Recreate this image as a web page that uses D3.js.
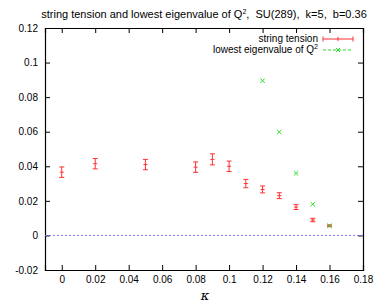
<!DOCTYPE html>
<html>
<head>
<meta charset="utf-8">
<script src="https://cdn.jsdelivr.net/npm/d3@7"></script>
<style>
  body { margin: 0; background: #fff; }
  text { font-family: "Liberation Sans", Arial, sans-serif; white-space: pre; }
</style>
</head>
<body>
<div class="container"></div>
<script>
// data
const kappa = [0, 0.02, 0.05, 0.08, 0.09, 0.10, 0.11, 0.12, 0.13, 0.14, 0.15, 0.16];
const tension = [0.0366, 0.0415, 0.041, 0.0395, 0.044, 0.040, 0.030, 0.0266, 0.023, 0.0164, 0.0089, 0.0056];
const tensionErr = [0.003, 0.003, 0.003, 0.003, 0.0032, 0.003, 0.0024, 0.002, 0.0017, 0.0014, 0.001, 0.0005];
const eigKappa = [0.12, 0.13, 0.14, 0.15, 0.16];
const eigValue = [0.0895, 0.0598, 0.0359, 0.018, 0.0056];
const xTicks = [0, 0.02, 0.04, 0.06, 0.08, 0.1, 0.12, 0.14, 0.16, 0.18];
const yTicks = [-0.02, 0, 0.02, 0.04, 0.06, 0.08, 0.1, 0.12];

const W = 382, H = 302;
const margin = {top: 28, right: 19, bottom: 32, left: 45};
const width = W - margin.left - margin.right,
    height = H - margin.top - margin.bottom;

const svg = d3.select("div.container").append("svg")
    .attr("width", W).attr("height", H);

const x = d3.scaleLinear().domain([-0.01, 0.18]).range([0, width]);
const y = d3.scaleLinear().domain([-0.02, 0.12]).range([height, 0]);

const g = svg.append("g").attr("transform", `translate(${margin.left},${margin.top})`);

// title
svg.append("text")
    .attr("x", 204).attr("y", 18)
    .attr("text-anchor", "middle")
    .style("font-size", "11px")
    .html('string tension and lowest eigenvalue of Q<tspan dy="-4" style="font-size:7px">2</tspan><tspan dy="4">,  SU(289),  k=5,  b=0.36</tspan>');

// axes: gnuplot style inward ticks, mirrored
const fmt = d => d === 0 ? "0" : String(+d.toFixed(2));
g.append("g").attr("transform", `translate(0,${height})`)
    .call(d3.axisBottom(x).tickValues(xTicks).tickSize(-5).tickPadding(6).tickFormat(fmt));
g.append("g")
    .call(d3.axisTop(x).tickValues(xTicks).tickSize(-5).tickFormat(""));
g.append("g")
    .call(d3.axisLeft(y).tickValues(yTicks).tickSize(-5).tickPadding(7).tickFormat(fmt));
g.append("g").attr("transform", `translate(${width},0)`)
    .call(d3.axisRight(y).tickValues(yTicks).tickSize(-5).tickFormat(""));

g.selectAll(".domain").attr("stroke", "#000").attr("stroke-width", 1.2);
g.selectAll(".tick line").attr("stroke", "#000");
g.selectAll(".tick text").style("font-size", "10px").attr("fill", "#000")
    .style("font-family", "'Liberation Sans', Arial, sans-serif");

// zero line
g.append("line")
    .attr("x1", 0).attr("x2", width)
    .attr("y1", y(0)).attr("y2", y(0))
    .attr("stroke", "#7777ff").attr("stroke-dasharray", "2,2");

// x label
svg.append("text")
    .attr("x", 205).attr("y", 300)
    .attr("text-anchor", "middle")
    .style("font-family", "'DejaVu Serif', 'Liberation Serif', serif")
    .style("font-style", "italic")
    .style("font-size", "13px")
    .text("κ");

const red = "#ff3030", green = "#22dd22";

// string tension error bars
const pts = kappa.map((k, i) => ({k, v: tension[i], e: tensionErr[i]}));
const eb = g.append("g").attr("stroke", red).attr("stroke-width", 1);
pts.forEach(d => {
    const cx = x(d.k), y1 = y(d.v + d.e), y2 = y(d.v - d.e);
    eb.append("line").attr("x1", cx).attr("x2", cx).attr("y1", y1).attr("y2", y2);
    eb.append("line").attr("x1", cx - 2.5).attr("x2", cx + 2.5).attr("y1", y1).attr("y2", y1);
    eb.append("line").attr("x1", cx - 2.5).attr("x2", cx + 2.5).attr("y1", y2).attr("y2", y2);
    eb.append("line").attr("x1", cx - 2).attr("x2", cx + 2).attr("y1", y(d.v)).attr("y2", y(d.v));
});

// lowest eigenvalue crosses
const cr = g.append("g").attr("stroke", green).attr("stroke-width", 1);
eigKappa.forEach((k, i) => {
    const cx = x(k), cy = y(eigValue[i]), s = 2.2;
    cr.append("line").attr("x1", cx - s).attr("x2", cx + s).attr("y1", cy - s).attr("y2", cy + s);
    cr.append("line").attr("x1", cx - s).attr("x2", cx + s).attr("y1", cy + s).attr("y2", cy - s);
});

// legend
const lg = svg.append("g");
lg.append("text").attr("x", 318).attr("y", 42).attr("text-anchor", "end")
    .style("font-size", "10px").text("string tension");
lg.append("text").attr("x", 318).attr("y", 53).attr("text-anchor", "end")
    .style("font-size", "10px")
    .html('lowest eigenvalue of Q<tspan dy="-4" style="font-size:7px">2</tspan>');
const l1 = lg.append("g").attr("stroke", red);
l1.append("line").attr("x1", 323).attr("x2", 353).attr("y1", 39).attr("y2", 39);
l1.append("line").attr("x1", 323).attr("x2", 323).attr("y1", 36.5).attr("y2", 41.5);
l1.append("line").attr("x1", 353).attr("x2", 353).attr("y1", 36.5).attr("y2", 41.5);
l1.append("line").attr("x1", 338).attr("x2", 338).attr("y1", 37).attr("y2", 41);
const l2 = lg.append("g").attr("stroke", green);
l2.append("line").attr("x1", 323).attr("x2", 353).attr("y1", 50).attr("y2", 50)
    .attr("stroke-dasharray", "3,2");
l2.append("line").attr("x1", 336).attr("x2", 340).attr("y1", 48).attr("y2", 52);
l2.append("line").attr("x1", 336).attr("x2", 340).attr("y1", 52).attr("y2", 48);
</script>
</body>
</html>
